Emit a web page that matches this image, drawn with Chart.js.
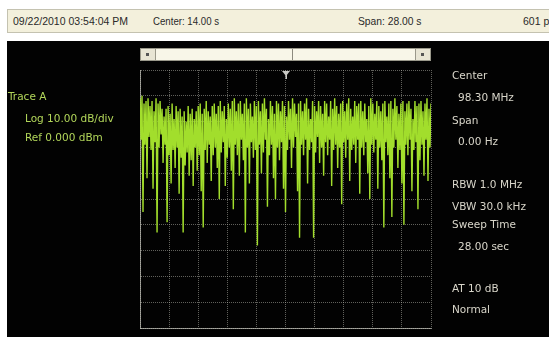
<!DOCTYPE html>
<html>
<head>
<meta charset="utf-8">
<script src="https://cdn.jsdelivr.net/npm/chart.js@4/dist/chart.umd.min.js"></script>
<style>
  html, body { margin: 0; padding: 0; background: #ffffff; }
  #wrap { position: relative; width: 549px; height: 337px; overflow: hidden; background: #ffffff; }
  #header {
    position: absolute; left: 7px; top: 9px; width: 545px; height: 24px;
    background: #f3f0dc; border: 1px solid #c4c2b0; box-sizing: border-box;
    font-family: "Liberation Sans", Arial, sans-serif;
    font-size: 10.5px; color: #2a2a2a;
  }
  #header span { position: absolute; top: 5px; white-space: nowrap; transform-origin: 0 50%; }
  #screen { position: absolute; left: 7px; top: 41px; width: 542px; height: 296px; background: #020202; }
  #chart { position: absolute; left: 0; top: 0; }
  .lbl {
    position: absolute; white-space: nowrap;
    font-family: "DejaVu Sans", sans-serif;
    font-size: 10.5px; line-height: 12px;
  }
  .lt { color: #b2d65a; }
  .rt { color: #d9d6ca; }
  #scroll { position: absolute; left: 140px; top: 48px; width: 291px; height: 13px; background: #f8f6e8; border: 1px solid #9a988a; box-sizing: border-box; }
  .btn { position: absolute; top: 0; width: 14px; height: 11px; background: #e8e5d4; border-right: 1px solid #9a988a; }
  .btn i { position: absolute; left: 5px; top: 4px; width: 3px; height: 3px; background: #555; }
  #divider { position: absolute; left: 151px; top: 0; width: 1px; height: 11px; background: #8c8a7e; }
</style>
</head>
<body>
<div id="wrap">
  <div id="header">
    <span style="left:5px">09/22/2010 03:54:04 PM</span>
    <span style="left:145px;transform:scaleX(0.92)">Center: 14.00 s</span>
    <span style="left:350px;transform:scaleX(0.98)">Span: 28.00 s</span>
    <span style="left:515px">601 pts</span>
  </div>
  <div id="screen"></div>
  <canvas id="chart" width="549" height="337"></canvas>
  <div id="scroll">
    <div class="btn" style="left:0"><i></i></div>
    <div class="btn" style="right:0;border-right:none;border-left:1px solid #9a988a"><i></i></div>
    <div id="divider"></div>
  </div>
  <div class="lbl lt" style="left:8px;top:90px">Trace A</div>
  <div class="lbl lt" style="left:25px;top:112px">Log 10.00 dB/div</div>
  <div class="lbl lt" style="left:25px;top:131px">Ref 0.000 dBm</div>
  <div class="lbl rt" style="left:452px;top:69px">Center</div>
  <div class="lbl rt" style="left:458px;top:91px">98.30 MHz</div>
  <div class="lbl rt" style="left:452px;top:114px">Span</div>
  <div class="lbl rt" style="left:458px;top:135px">0.00 Hz</div>
  <div class="lbl rt" style="left:452px;top:178px">RBW 1.0 MHz</div>
  <div class="lbl rt" style="left:452px;top:200px">VBW 30.0 kHz</div>
  <div class="lbl rt" style="left:452px;top:218px">Sweep Time</div>
  <div class="lbl rt" style="left:458px;top:240px">28.00 sec</div>
  <div class="lbl rt" style="left:452px;top:282px">AT 10 dB</div>
  <div class="lbl rt" style="left:452px;top:303px">Normal</div>
</div>
<script>
// Sweep settings (zero span, time axis in seconds)
const sweepStart = 0;
const sweepStop = 28;
const refLevel = 0;       // dBm, top of the graticule
const dbPerDiv = 10;
const divisions = 10;

// Vertical graticule positions (seconds)
const timeTicks = [0, 2.8, 5.6, 8.4, 11.2, 14, 16.8, 19.6, 22.4, 25.2, 28];
// Horizontal graticule positions (dBm)
const levelTicks = [0, -10, -20, -30, -40, -50, -60, -70, -80, -90, -100];

// Trace A amplitude samples (dBm), peak/trough pairs along the sweep
const traceA = [
  -11, -27, -10, -55, -13, -29, -12, -42, -11, -26,
  -14, -31, -12, -46, -16, -28, -11, -63, -13, -30,
  -12, -25, -15, -36, -18, -29, -15, -59, -14, -33,
  -17, -44, -13, -31, -19, -38, -14, -30, -16, -48,
  -15, -34, -18, -63, -16, -37, -20, -32, -14, -41,
  -17, -35, -15, -45, -19, -30, -16, -39, -14, -33,
  -13, -47, -17, -61, -15, -31, -12, -36, -16, -29,
  -18, -43, -14, -33, -13, -30, -17, -38, -14, -50,
  -12, -32, -16, -28, -14, -45, -19, -34, -13, -30,
  -15, -39, -12, -54, -11, -29, -16, -33, -13, -41,
  -12, -27, -17, -35, -13, -63, -11, -30, -15, -44,
  -13, -28, -18, -34, -12, -31, -14, -68, -12, -29,
  -16, -40, -13, -32, -11, -27, -15, -53, -19, -33,
  -12, -29, -14, -42, -17, -50, -12, -30, -13, -35,
  -16, -28, -12, -46, -14, -55, -18, -31, -12, -27,
  -15, -38, -11, -30, -13, -26, -17, -47, -13, -65,
  -12, -29, -16, -33, -13, -27, -11, -44, -15, -31,
  -19, -28, -12, -65, -14, -32, -16, -26, -12, -36,
  -14, -30, -17, -41, -12, -28, -13, -33, -18, -27,
  -12, -45, -15, -31, -11, -29, -14, -38, -17, -30,
  -13, -52, -12, -28, -16, -34, -13, -27, -11, -43,
  -15, -31, -18, -29, -12, -36, -14, -27, -13, -48,
  -12, -30, -16, -33, -13, -28, -19, -40, -14, -50,
  -11, -29, -13, -32, -17, -27, -12, -46, -14, -30,
  -16, -35, -13, -61, -12, -28, -18, -33, -13, -42,
  -12, -57, -15, -30, -11, -27, -14, -38, -17, -31,
  -13, -44, -12, -60, -16, -29, -13, -33, -12, -27,
  -15, -47, -19, -31, -12, -28, -14, -54, -13, -35,
  -12, -29, -16, -41, -13, -27, -11, -43, -15, -30,
  -13
];

// Samples are evenly spaced across the sweep
const points = traceA.map((v, i) => ({
  x: sweepStart + (sweepStop - sweepStart) * i / (traceA.length - 1),
  y: v
}));

// Small marker triangle above the graticule at the sweep centre
const markerPlugin = {
  id: 'centerMarker',
  afterDraw(chart) {
    const { ctx, scales } = chart;
    const x = Math.round(scales.x.getPixelForValue((sweepStart + sweepStop) / 2));
    const top = chart.chartArea.top;
    ctx.save();
    ctx.fillStyle = '#c9c9c4';
    ctx.beginPath();
    ctx.moveTo(x - 4, top + 1);
    ctx.lineTo(x + 4, top + 1);
    ctx.lineTo(x, top + 6);
    ctx.closePath();
    ctx.fill();
    ctx.fillRect(x - 0.5, top + 5, 1.5, 4);
    ctx.restore();
  }
};

const gridStyle = {
  color: 'rgba(190,190,180,0.5)',
  lineWidth: 1,
  drawTicks: false,
  tickLength: 0
};

new Chart(document.getElementById('chart'), {
  type: 'line',
  data: {
    datasets: [{
      label: 'Trace A',
      data: points,
      borderColor: '#a2de2c',
      borderWidth: 1.4,
      pointRadius: 0,
      tension: 0,
      fill: false
    }]
  },
  options: {
    responsive: false,
    animation: false,
    devicePixelRatio: 1,
    layout: { padding: { left: 140, right: 118, top: 70, bottom: 9 } },
    plugins: { legend: { display: false }, tooltip: { enabled: false } },
    scales: {
      x: {
        type: 'linear',
        min: sweepStart,
        max: sweepStop,
        afterBuildTicks: s => { s.ticks = timeTicks.map(v => ({ value: v })); },
        ticks: { display: false },
        grid: Object.assign({ borderDash: [1, 2] }, gridStyle),
        border: { display: true, color: 'rgba(200,200,190,0.7)', dash: [1, 1] }
      },
      y: {
        type: 'linear',
        min: refLevel - dbPerDiv * divisions,
        max: refLevel,
        afterBuildTicks: s => { s.ticks = levelTicks.map(v => ({ value: v })); },
        ticks: { display: false },
        grid: gridStyle,
        border: { display: true, color: 'rgba(200,200,190,0.7)', dash: [1, 1] }
      }
    }
  },
  plugins: [markerPlugin]
});
</script>
</body>
</html>
